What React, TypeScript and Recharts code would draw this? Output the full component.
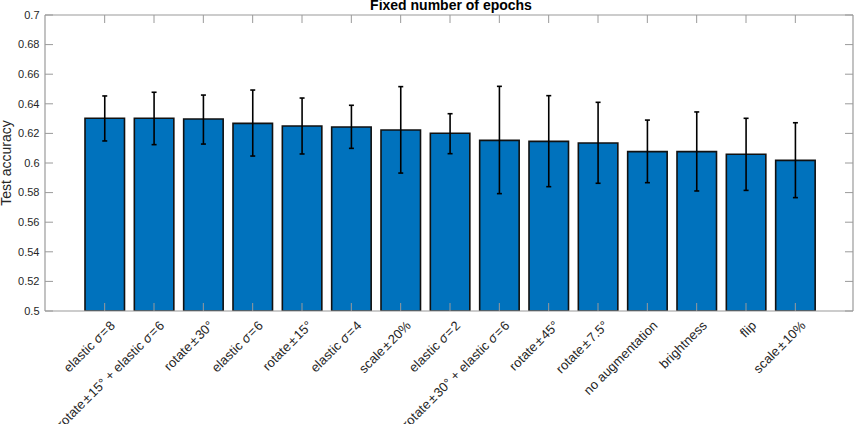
import React from 'react';
import { BarChart, Bar, XAxis, YAxis, ErrorBar, Customized } from 'recharts';

const categories = [
  'elastic σ=8',
  'rotate±15° + elastic σ=6',
  'rotate±30°',
  'elastic σ=6',
  'rotate±15°',
  'elastic σ=4',
  'scale±20%',
  'elastic σ=2',
  'rotate±30° + elastic σ=6',
  'rotate±45°',
  'rotate±7.5°',
  'no augmentation',
  'brightness',
  'flip',
  'scale±10%',
];

const meanAccuracy = [
  0.6302, 0.6302, 0.6297, 0.6268, 0.625, 0.6243, 0.6223, 0.6201,
  0.6153, 0.6146, 0.6135, 0.6077, 0.6077, 0.6059, 0.6018,
];

const lowerBound = [
  0.6149, 0.6124, 0.6128, 0.6047, 0.6061, 0.6099, 0.5932, 0.6063,
  0.5793, 0.584, 0.5863, 0.5867, 0.5811, 0.5815, 0.5766,
];

const upperBound = [
  0.6453, 0.6478, 0.6459, 0.6493, 0.6439, 0.639, 0.6516, 0.6333,
  0.6518, 0.6455, 0.641, 0.629, 0.6345, 0.6302, 0.6272,
];

const yTicks = [0.5, 0.52, 0.54, 0.56, 0.58, 0.6, 0.62, 0.64, 0.66, 0.68, 0.7];
const yTickLabels = ['0.5', '0.52', '0.54', '0.56', '0.58', '0.6', '0.62', '0.64', '0.66', '0.68', '0.7'];

const data = categories.map((name, i) => ({
  name,
  value: meanAccuracy[i],
  err: [meanAccuracy[i] - lowerBound[i], upperBound[i] - meanAccuracy[i]],
}));

const FONT = '"Liberation Sans", Arial, Helvetica, sans-serif';
const AXIS = '#9a9a9a';
const TEXT = '#262626';
const TICK_LEN = 8;

// TeX-like rendering: italic sigma, a little extra space around ± and =
const renderLabel = (label: string) => {
  const out: React.ReactNode[] = [];
  let pending = 0;
  let buf = '';
  let key = 0;
  const flush = () => {
    if (buf) {
      out.push(
        <tspan key={key++} dx={pending || undefined}>
          {buf}
        </tspan>
      );
      pending = 0;
      buf = '';
    }
  };
  for (const ch of label) {
    if (ch === '±' || ch === '=') {
      flush();
      const gap = ch === '±' ? 1.5 : 1;
      out.push(
        <tspan key={key++} dx={pending + gap}>
          {ch}
        </tspan>
      );
      pending = gap;
    } else if (ch === 'σ') {
      flush();
      out.push(
        <tspan key={key++} dx={pending || undefined} fontStyle="italic">
          σ
        </tspan>
      );
      pending = 0;
    } else {
      buf += ch;
    }
  }
  flush();
  return out;
};

const BottomTick = (props: any) => {
  const { x, y, payload } = props;
  const ax = x + 8;
  const ay = y + 12;
  return (
    <g>
      <line x1={x} x2={x} y1={y} y2={y - TICK_LEN} stroke={AXIS} strokeWidth={1} />
      <text
        x={ax}
        y={ay}
        dy="0.35em"
        textAnchor="end"
        transform={`rotate(-45, ${ax}, ${ay})`}
        fontFamily={FONT}
        fontSize={13}
        letterSpacing={0.1}
        fill={TEXT}
      >
        {renderLabel(String(payload.value))}
      </text>
    </g>
  );
};

const TopTick = (props: any) => {
  const { x, y } = props;
  return <line x1={x} x2={x} y1={y} y2={y + TICK_LEN} stroke={AXIS} strokeWidth={1} />;
};

const LeftTick = (props: any) => {
  const { x, y, payload } = props;
  const idx = yTicks.indexOf(payload.value);
  const label = idx >= 0 ? yTickLabels[idx] : String(payload.value);
  return (
    <g>
      <line x1={x} x2={x + TICK_LEN} y1={y} y2={y} stroke={AXIS} strokeWidth={1} />
      <text x={x - 5.5} y={y} dy="0.35em" textAnchor="end" fontFamily={FONT} fontSize={11} fill={TEXT}>
        {label}
      </text>
    </g>
  );
};

const RightTick = (props: any) => {
  const { x, y } = props;
  return <line x1={x} x2={x - TICK_LEN} y1={y} y2={y} stroke={AXIS} strokeWidth={1} />;
};

const Titles = () => (
  <g>
    <text x={451} y={9.5} textAnchor="middle" fontFamily={FONT} fontSize={14} fontWeight="bold" fill="#000">
      Fixed number of epochs
    </text>
    <text
      x={10.5}
      y={163}
      textAnchor="middle"
      transform="rotate(-90, 10.5, 163)"
      fontFamily={FONT}
      fontSize={14}
      fill={TEXT}
    >
      Test accuracy
    </text>
  </g>
);

export default function App() {
  return (
    <div style={{ position: 'fixed', left: 0, top: 0, width: 854, height: 424, background: '#fff' }}>
      <BarChart
        width={854}
        height={424}
        data={data}
        margin={{ top: 14, right: 0, bottom: 0, left: 0 }}
        barSize={39.5}
      >
        <XAxis
          dataKey="name"
          xAxisId="b"
          orientation="bottom"
          height={113}
          interval={0}
          padding={{ left: 35, right: 33 }}
          tickSize={0}
          tickMargin={0}
          tickLine={false}
          axisLine={{ stroke: AXIS, strokeWidth: 1.2 }}
          tick={<BottomTick />}
        />
        <XAxis
          dataKey="name"
          xAxisId="t"
          orientation="top"
          height={1}
          interval={0}
          padding={{ left: 35, right: 33 }}
          tickSize={0}
          tickMargin={0}
          tickLine={false}
          axisLine={{ stroke: AXIS, strokeWidth: 1.2 }}
          tick={<TopTick />}
        />
        <YAxis
          yAxisId="l"
          orientation="left"
          width={45}
          type="number"
          domain={[0.5, 0.7]}
          ticks={yTicks}
          interval={0}
          allowDataOverflow
          tickSize={0}
          tickMargin={0}
          tickLine={false}
          axisLine={{ stroke: AXIS, strokeWidth: 1.2 }}
          tick={<LeftTick />}
        />
        <YAxis
          yAxisId="r"
          orientation="right"
          width={1}
          type="number"
          domain={[0.5, 0.7]}
          ticks={yTicks}
          interval={0}
          allowDataOverflow
          tickSize={0}
          tickMargin={0}
          tickLine={false}
          axisLine={{ stroke: AXIS, strokeWidth: 1.2 }}
          tick={<RightTick />}
        />
        <Bar
          dataKey="value"
          xAxisId="b"
          yAxisId="l"
          fill="#0072BD"
          stroke="#111"
          strokeWidth={1.6}
          isAnimationActive={false}
        >
          <ErrorBar dataKey="err" width={2.5} stroke="#000" strokeWidth={1.6} direction="y" isAnimationActive={false} />
        </Bar>
        <Customized component={Titles} />
      </BarChart>
    </div>
  );
}
